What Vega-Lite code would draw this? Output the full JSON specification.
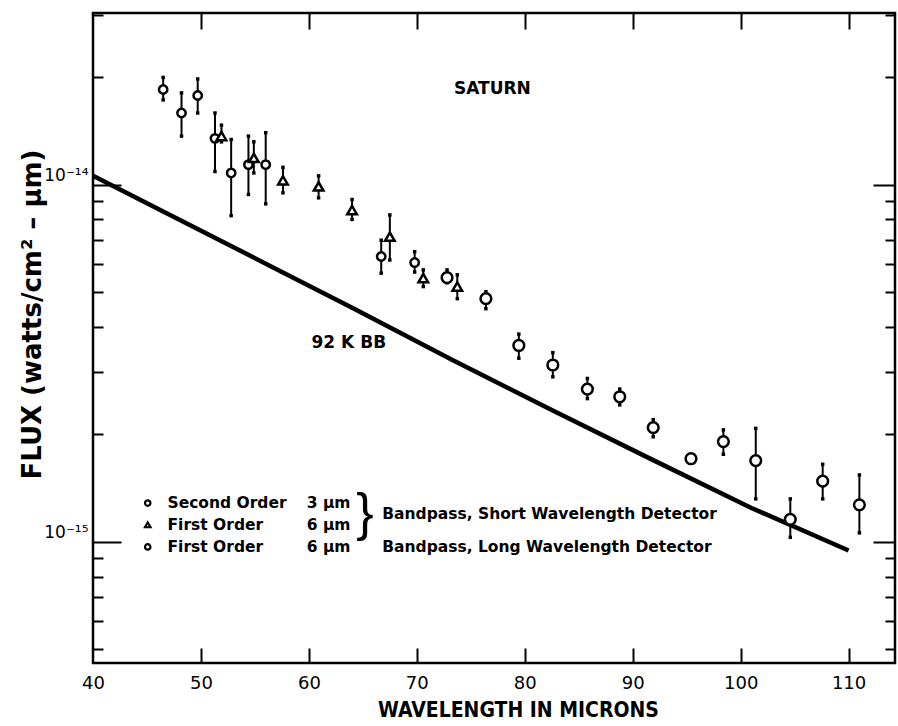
{
  "$schema": "https://vega.github.io/schema/vega-lite/v6.json",
  "width": 802,
  "height": 650,
  "autosize": {"type": "none"},
  "padding": {"left": 93, "top": 13, "right": 3, "bottom": 63},
  "background": "white",
  "config": {
    "view": {"stroke": "black", "strokeWidth": 2.5},
    "font": "DejaVu Sans",
    "axis": {"grid": false, "domain": false, "labelColor": "black", "tickColor": "black", "titleColor": "black", "labelFlush": false, "labelOverlap": false, "labelBound": false}
  },
  "datasets": {
    "obs": [
      {"wl": 46.5, "flux": 1.85e-14, "lo": 1.73e-14, "hi": 2.0e-14, "type": "Second Order 3 μm"},
      {"wl": 48.2, "flux": 1.59e-14, "lo": 1.37e-14, "hi": 1.81e-14, "type": "Second Order 3 μm"},
      {"wl": 49.7, "flux": 1.78e-14, "lo": 1.59e-14, "hi": 1.98e-14, "type": "Second Order 3 μm"},
      {"wl": 51.3, "flux": 1.35e-14, "lo": 1.09e-14, "hi": 1.59e-14, "type": "Second Order 3 μm"},
      {"wl": 51.9, "flux": 1.37e-14, "lo": 1.32e-14, "hi": 1.47e-14, "type": "First Order 6 μm short"},
      {"wl": 52.8, "flux": 1.08e-14, "lo": 8.2e-15, "hi": 1.34e-14, "type": "Second Order 3 μm"},
      {"wl": 54.4, "flux": 1.14e-14, "lo": 9.4e-15, "hi": 1.37e-14, "type": "Second Order 3 μm"},
      {"wl": 54.9, "flux": 1.19e-14, "lo": 1.08e-14, "hi": 1.32e-14, "type": "First Order 6 μm short"},
      {"wl": 56.0, "flux": 1.14e-14, "lo": 8.85e-15, "hi": 1.40e-14, "type": "Second Order 3 μm"},
      {"wl": 57.6, "flux": 1.03e-14, "lo": 9.5e-15, "hi": 1.12e-14, "type": "First Order 6 μm short"},
      {"wl": 60.9, "flux": 9.9e-15, "lo": 9.2e-15, "hi": 1.06e-14, "type": "First Order 6 μm short"},
      {"wl": 64.0, "flux": 8.5e-15, "lo": 8.0e-15, "hi": 9.1e-15, "type": "First Order 6 μm short"},
      {"wl": 67.5, "flux": 7.16e-15, "lo": 6.16e-15, "hi": 8.24e-15, "type": "First Order 6 μm short"},
      {"wl": 66.7, "flux": 6.3e-15, "lo": 5.66e-15, "hi": 7.0e-15, "type": "Second Order 3 μm"},
      {"wl": 69.8, "flux": 6.06e-15, "lo": 5.7e-15, "hi": 6.5e-15, "type": "Second Order 3 μm"},
      {"wl": 70.6, "flux": 5.48e-15, "lo": 5.19e-15, "hi": 5.78e-15, "type": "First Order 6 μm short"},
      {"wl": 72.8, "flux": 5.5e-15, "lo": 5.32e-15, "hi": 5.78e-15, "type": "First Order 6 μm long"},
      {"wl": 73.75, "flux": 5.19e-15, "lo": 4.8e-15, "hi": 5.6e-15, "type": "First Order 6 μm short"},
      {"wl": 76.4, "flux": 4.8e-15, "lo": 4.5e-15, "hi": 5.02e-15, "type": "First Order 6 μm long"},
      {"wl": 79.45, "flux": 3.55e-15, "lo": 3.27e-15, "hi": 3.82e-15, "type": "First Order 6 μm long"},
      {"wl": 82.6, "flux": 3.13e-15, "lo": 2.9e-15, "hi": 3.39e-15, "type": "First Order 6 μm long"},
      {"wl": 85.8, "flux": 2.68e-15, "lo": 2.52e-15, "hi": 2.87e-15, "type": "First Order 6 μm long"},
      {"wl": 88.8, "flux": 2.55e-15, "lo": 2.42e-15, "hi": 2.68e-15, "type": "First Order 6 μm long"},
      {"wl": 91.9, "flux": 2.09e-15, "lo": 1.97e-15, "hi": 2.2e-15, "type": "First Order 6 μm long"},
      {"wl": 95.4, "flux": 1.71e-15, "lo": null, "hi": null, "type": "First Order 6 μm long"},
      {"wl": 98.4, "flux": 1.91e-15, "lo": 1.76e-15, "hi": 2.06e-15, "type": "First Order 6 μm long"},
      {"wl": 101.4, "flux": 1.69e-15, "lo": 1.32e-15, "hi": 2.08e-15, "type": "First Order 6 μm long"},
      {"wl": 104.6, "flux": 1.157e-15, "lo": 1.03e-15, "hi": 1.32e-15, "type": "First Order 6 μm long"},
      {"wl": 107.6, "flux": 1.48e-15, "lo": 1.32e-15, "hi": 1.65e-15, "type": "First Order 6 μm long"},
      {"wl": 111.0, "flux": 1.27e-15, "lo": 1.06e-15, "hi": 1.54e-15, "type": "First Order 6 μm long"}
    ],
    "bb": [
      {"wl": 40.0, "flux": 1.06e-14},
      {"wl": 46.5, "flux": 8.42e-15},
      {"wl": 54.8, "flux": 6.28e-15},
      {"wl": 64.05, "flux": 4.52e-15},
      {"wl": 73.3, "flux": 3.235e-15},
      {"wl": 82.5, "flux": 2.34e-15},
      {"wl": 91.8, "flux": 1.70e-15},
      {"wl": 101.0, "flux": 1.245e-15},
      {"wl": 110.0, "flux": 9.46e-16}
    ],
    "notes": [
      {"wl": 77.0, "flux": 1.86e-14, "label": "SATURN"},
      {"wl": 63.7, "flux": 3.61e-15, "label": "92 K BB"}
    ],
    "legsym": [
      {"wl": 45.07, "flux": 1.285e-15, "type": "Second Order 3 μm"},
      {"wl": 45.07, "flux": 1.116e-15, "type": "First Order 6 μm short"},
      {"wl": 45.07, "flux": 9.68e-16, "type": "First Order 6 μm long"}
    ],
    "legtext": [
      {"wl": 46.9, "flux": 1.285e-15, "label": "Second Order"},
      {"wl": 59.8, "flux": 1.285e-15, "label": "3 μm"},
      {"wl": 46.9, "flux": 1.116e-15, "label": "First Order"},
      {"wl": 59.8, "flux": 1.116e-15, "label": "6 μm"},
      {"wl": 46.9, "flux": 9.68e-16, "label": "First Order"},
      {"wl": 59.8, "flux": 9.68e-16, "label": "6 μm"},
      {"wl": 66.8, "flux": 1.2e-15, "label": "Bandpass, Short Wavelength Detector"},
      {"wl": 66.8, "flux": 9.68e-16, "label": "Bandpass, Long Wavelength Detector"}
    ],
    "brace": [
      {"wl": 65.2, "flux": 1.2e-15, "label": "}"}
    ]
  },
  "resolve": {"axis": {"x": "independent", "y": "independent"}},
  "layer": [
    {
      "data": {"name": "obs"},
      "transform": [{"filter": "datum.lo != null"}],
      "mark": {"type": "rule", "color": "black", "strokeWidth": 2},
      "encoding": {
        "x": {"field": "wl", "type": "quantitative",
          "scale": {"domain": [40, 114.3], "nice": false, "zero": false},
          "axis": {"orient": "bottom", "values": [40, 50, 60, 70, 80, 90, 100, 110], "ticks": false, "labelFontSize": 18, "labelPadding": 11,
            "title": "WAVELENGTH IN MICRONS", "titleFont": "DejaVu Sans Condensed", "titleFontSize": 21, "titleFontWeight": "bold",
            "titleX": 425, "titleY": 47, "titleBaseline": "middle", "titleAlign": "center"}},
        "y": {"field": "lo", "type": "quantitative",
          "scale": {"type": "log", "domain": [4.58e-16, 3.03e-14], "nice": false},
          "axis": {"orient": "left", "values": [1e-15, 1e-14], "ticks": false, "labelFontSize": 17, "labelPadding": 5, "labelBaseline": "bottom",
            "labelExpr": "datum.value > 5e-15 ? '10⁻¹⁴' : '10⁻¹⁵'",
            "title": "FLUX (watts/cm² – μm)", "titleFontSize": 26, "titleFontWeight": "bold",
            "titleX": -61, "titleY": 301, "titleAngle": -90, "titleBaseline": "middle", "titleAlign": "center"}},
        "y2": {"field": "hi"}
      }
    },
    {
      "data": {"name": "obs"},
      "transform": [{"filter": "datum.lo != null"}],
      "mark": {"type": "point", "shape": "square", "filled": true, "color": "black", "size": 12, "opacity": 1},
      "encoding": {
        "x": {"field": "wl", "type": "quantitative",
          "scale": {"domain": [40, 114.3], "nice": false, "zero": false},
          "axis": {"orient": "bottom", "values": [50, 60, 70, 80, 90, 100, 110], "labels": false, "tickSize": -15, "tickWidth": 2, "title": null}},
        "y": {"field": "lo", "type": "quantitative",
          "scale": {"type": "log", "domain": [4.58e-16, 3.03e-14], "nice": false},
          "axis": {"orient": "left", "values": [1e-15, 1e-14], "labels": false, "tickSize": -28, "tickWidth": 2, "title": null}}
      }
    },
    {
      "data": {"name": "obs"},
      "transform": [{"filter": "datum.hi != null"}],
      "mark": {"type": "point", "shape": "square", "filled": true, "color": "black", "size": 12, "opacity": 1},
      "encoding": {
        "x": {"field": "wl", "type": "quantitative",
          "scale": {"domain": [40, 114.3], "nice": false, "zero": false},
          "axis": {"orient": "top", "values": [50, 60, 70, 80, 90, 100, 110], "labels": false, "tickSize": -16, "tickWidth": 2, "title": null}},
        "y": {"field": "hi", "type": "quantitative",
          "scale": {"type": "log", "domain": [4.58e-16, 3.03e-14], "nice": false},
          "axis": {"orient": "left", "values": [5e-16, 6e-16, 7e-16, 8e-16, 9e-16, 2e-15, 3e-15, 4e-15, 5e-15, 6e-15, 7e-15, 8e-15, 9e-15, 2e-14, 3e-14], "labels": false, "tickSize": -10, "tickWidth": 2, "title": null}}
      }
    },
    {
      "data": {"name": "bb"},
      "mark": {"type": "line", "color": "black", "strokeWidth": 4.5},
      "encoding": {
        "x": {"field": "wl", "type": "quantitative",
          "scale": {"domain": [40, 114.3], "nice": false, "zero": false}, "axis": null},
        "y": {"field": "flux", "type": "quantitative",
          "scale": {"type": "log", "domain": [4.58e-16, 3.03e-14], "nice": false},
          "axis": {"orient": "right", "values": [1e-15, 1e-14], "labels": false, "tickSize": -22, "tickWidth": 2, "title": null}}
      }
    },
    {
      "data": {"name": "obs"},
      "mark": {"type": "point", "fill": "white", "stroke": "black", "strokeWidth": 2.5, "opacity": 1},
      "encoding": {
        "x": {"field": "wl", "type": "quantitative",
          "scale": {"domain": [40, 114.3], "nice": false, "zero": false}, "axis": null},
        "y": {"field": "flux", "type": "quantitative",
          "scale": {"type": "log", "domain": [4.58e-16, 3.03e-14], "nice": false},
          "axis": {"orient": "right", "values": [5e-16, 6e-16, 7e-16, 8e-16, 9e-16, 2e-15, 3e-15, 4e-15, 5e-15, 6e-15, 7e-15, 8e-15, 9e-15, 2e-14, 3e-14], "labels": false, "tickSize": -10, "tickWidth": 2, "title": null}},
        "shape": {"field": "type", "type": "nominal",
          "scale": {"domain": ["Second Order 3 μm", "First Order 6 μm short", "First Order 6 μm long"], "range": ["circle", "triangle-up", "circle"]},
          "legend": null},
        "size": {"field": "type", "type": "nominal",
          "scale": {"domain": ["Second Order 3 μm", "First Order 6 μm short", "First Order 6 μm long"], "range": [70, 115, 70]},
          "legend": null}
      }
    },
    {
      "data": {"name": "legsym"},
      "mark": {"type": "point", "fill": "white", "stroke": "black", "strokeWidth": 2.2, "size": 30, "opacity": 1},
      "encoding": {
        "x": {"field": "wl", "type": "quantitative", "scale": {"domain": [40, 114.3], "nice": false, "zero": false}, "axis": null},
        "y": {"field": "flux", "type": "quantitative", "scale": {"type": "log", "domain": [4.58e-16, 3.03e-14], "nice": false}, "axis": null},
        "shape": {"field": "type", "type": "nominal", "legend": null}
      }
    },
    {
      "data": {"name": "notes"},
      "mark": {"type": "text", "font": "DejaVu Sans", "fontSize": 17, "fontWeight": "bold", "align": "center", "baseline": "middle", "color": "black"},
      "encoding": {
        "x": {"field": "wl", "type": "quantitative", "scale": {"domain": [40, 114.3], "nice": false, "zero": false}, "axis": null},
        "y": {"field": "flux", "type": "quantitative", "scale": {"type": "log", "domain": [4.58e-16, 3.03e-14], "nice": false}, "axis": null},
        "text": {"field": "label"}
      }
    },
    {
      "data": {"name": "legtext"},
      "mark": {"type": "text", "font": "DejaVu Sans", "fontSize": 15.5, "fontWeight": "bold", "align": "left", "baseline": "middle", "color": "black"},
      "encoding": {
        "x": {"field": "wl", "type": "quantitative", "scale": {"domain": [40, 114.3], "nice": false, "zero": false}, "axis": null},
        "y": {"field": "flux", "type": "quantitative", "scale": {"type": "log", "domain": [4.58e-16, 3.03e-14], "nice": false}, "axis": null},
        "text": {"field": "label"}
      }
    },
    {
      "data": {"name": "brace"},
      "mark": {"type": "text", "font": "Liberation Sans", "fontSize": 52, "fontWeight": "normal", "align": "center", "baseline": "middle", "color": "black"},
      "encoding": {
        "x": {"field": "wl", "type": "quantitative", "scale": {"domain": [40, 114.3], "nice": false, "zero": false}, "axis": null},
        "y": {"field": "flux", "type": "quantitative", "scale": {"type": "log", "domain": [4.58e-16, 3.03e-14], "nice": false}, "axis": null},
        "text": {"field": "label"}
      }
    }
  ]
}
